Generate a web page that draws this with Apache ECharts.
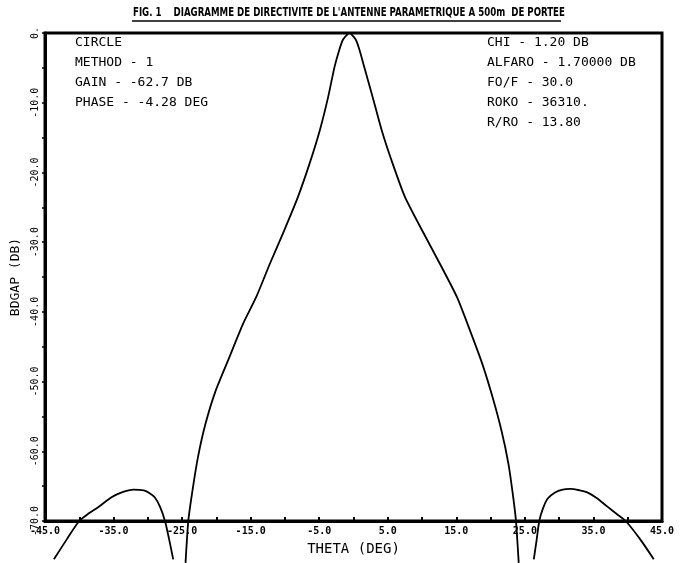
<!DOCTYPE html>
<html>
<head>
<meta charset="utf-8">
<script src="https://cdn.jsdelivr.net/npm/echarts@6/dist/echarts.min.js"></script>
<style>
  html, body { margin: 0; padding: 0; background: #fff; }
  #myEcharts { width: 684px; height: 563px; }
</style>
</head>
<body>
<div id="myEcharts"></div>
<script>
// courbe principale (lobe central), theta en degres / niveau en dB
const mainTheta = [-24.5, -24.1, -23.5, -22.7, -21.6, -20.1, -18.1, -16.1, -14.2, -12.2, -10.1, -8.1, -6.4, -4.9, -3.7, -2.8, -2.1, -1.5, -0.6, 0.3, 0.9, 1.6, 2.8, 4.1, 5.7, 7.5, 10.0, 12.6, 15.1, 17.0, 18.8, 20.3, 21.6, 22.6, 23.3, 23.7, 24.1];
const mainDb = [-76, -70, -65.7, -60.9, -56.1, -51.3, -46.5, -41.7, -37.9, -33.1, -28.3, -23.5, -18.7, -13.9, -9.2, -5.0, -2.5, -0.9, 0, -0.9, -2.5, -5.0, -9.2, -13.9, -18.7, -23.5, -28.3, -33.1, -37.9, -42.7, -47.5, -52.3, -57.1, -61.8, -66.6, -70, -76];

// lobes secondaires
const leftLobeTheta = [-43.7, -41.8, -40.0, -38.6, -37.2, -35.3, -33.8, -32.1, -30.6, -29.9, -29.0, -28.2, -27.5, -26.9, -26.3];
const leftLobeDb = [-75.5, -72.6, -70, -68.9, -68.0, -66.6, -65.9, -65.5, -65.6, -65.9, -66.6, -68.0, -70, -72.6, -75.5];
const rightLobeTheta = [26.3, 26.7, 27.1, 27.6, 28.3, 29.4, 30.5, 31.6, 33.0, 34.1, 35.3, 37.0, 38.4, 39.7, 41.8, 43.8];
const rightLobeDb = [-75.5, -72.8, -70, -68.3, -66.8, -65.9, -65.5, -65.4, -65.6, -65.9, -66.6, -67.9, -69.0, -70, -72.6, -75.5];

// textes
const titleText = "FIG. 1    DIAGRAMME DE DIRECTIVITE DE L'ANTENNE PARAMETRIQUE A 500m  DE PORTEE";
const leftNotes = ['CIRCLE', 'METHOD - 1', 'GAIN - -62.7 DB', 'PHASE - -4.28 DEG'];
const rightNotes = ['CHI - 1.20 DB', 'ALFARO - 1.70000 DB', 'FO/F - 30.0', 'ROKO - 36310.', 'R/RO - 13.80'];

const xTicksLabelled = [-45, -35, -25, -15, -5, 5, 15, 25, 35, 45];

const MONO = '"DejaVu Sans Mono", monospace';
const NOTE_FONT = '13px ' + MONO;

function pairs(xs, ys) {
  return xs.map(function (x, i) { return [x, ys[i]]; });
}

const chartDom = document.getElementById('myEcharts');
const myChart = echarts.init(chartDom, null, { renderer: 'canvas' });

// blocs de texte dans le cadre
function note(x, y, t) {
  return { type: 'text', x: x, y: y, style: { text: t, font: NOTE_FONT, fill: '#000', textVerticalAlign: 'middle' } };
}
let notes = [];
leftNotes.forEach(function (t, i) {
  notes.push(note(75, 43 + i * 20, t));
});
rightNotes.forEach(function (t, i) {
  notes.push(note(487, 43 + i * 20, t));
});

function lineSeries(name, data, smooth) {
  return {
    name: name,
    type: 'line',
    data: data,
    showSymbol: false,
    smooth: smooth,
    clip: false,
    silent: true,
    lineStyle: { color: '#000', width: 1.8 },
  };
}

let option = {
  animation: false,
  backgroundColor: '#fff',
  grid: {
    left: 45,
    right: 22,
    top: 33,
    bottom: 42,
    show: true,
    borderColor: '#000',
    borderWidth: 3,
  },
  xAxis: {
    type: 'value',
    min: -45,
    max: 45,
    interval: 5,
    name: 'THETA (DEG)',
    nameLocation: 'middle',
    nameGap: 21,
    nameTextStyle: { fontFamily: MONO, fontSize: 14, color: '#000' },
    axisLine: { onZero: false, lineStyle: { color: '#000', width: 3 } },
    axisTick: { inside: true, length: 4, lineStyle: { color: '#000', width: 2 } },
    splitLine: { show: false },
    axisLabel: {
      margin: 5,
      fontFamily: MONO,
      fontSize: 10,
      fontWeight: 'bold',
      color: '#000',
      showMinLabel: true,
      showMaxLabel: true,
      formatter: function (v) {
        return xTicksLabelled.indexOf(v) >= 0 ? v.toFixed(1) : '';
      },
    },
  },
  yAxis: {
    type: 'value',
    min: -70,
    max: 0,
    interval: 5,
    name: 'BDGAP (DB)',
    nameLocation: 'middle',
    nameGap: 22,
    nameTextStyle: { fontFamily: MONO, fontSize: 13, color: '#000' },
    axisLine: { onZero: false, lineStyle: { color: '#000', width: 3 } },
    axisTick: { inside: false, length: 3, lineStyle: { color: '#000', width: 1.5 } },
    splitLine: { show: false },
    axisLabel: {
      rotate: 90,
      margin: 5,
      fontFamily: MONO,
      fontSize: 10,
      color: '#000',
      formatter: function (v) {
        if (v % 10 !== 0) return '';
        return v === 0 ? '0.' : v.toFixed(1);
      },
    },
  },
  graphic: [
    {
      type: 'text',
      x: 133,
      y: 13,
      scaleX: 0.8,
      style: {
        text: titleText,
        font: 'bold 12px "DejaVu Sans Condensed", sans-serif',
        fill: '#000',
        textVerticalAlign: 'middle',
      },
    },
    {
      type: 'line',
      shape: { x1: 132, y1: 21, x2: 561, y2: 21 },
      style: { stroke: '#000', lineWidth: 1.5 },
    },
  ].concat(notes),
  series: [
    lineSeries('main', pairs(mainTheta, mainDb), 0.2),
    lineSeries('leftLobe', pairs(leftLobeTheta, leftLobeDb), 0.3),
    lineSeries('rightLobe', pairs(rightLobeTheta, rightLobeDb), 0.3),
  ],
};

myChart.setOption(option);
</script>
</body>
</html>
